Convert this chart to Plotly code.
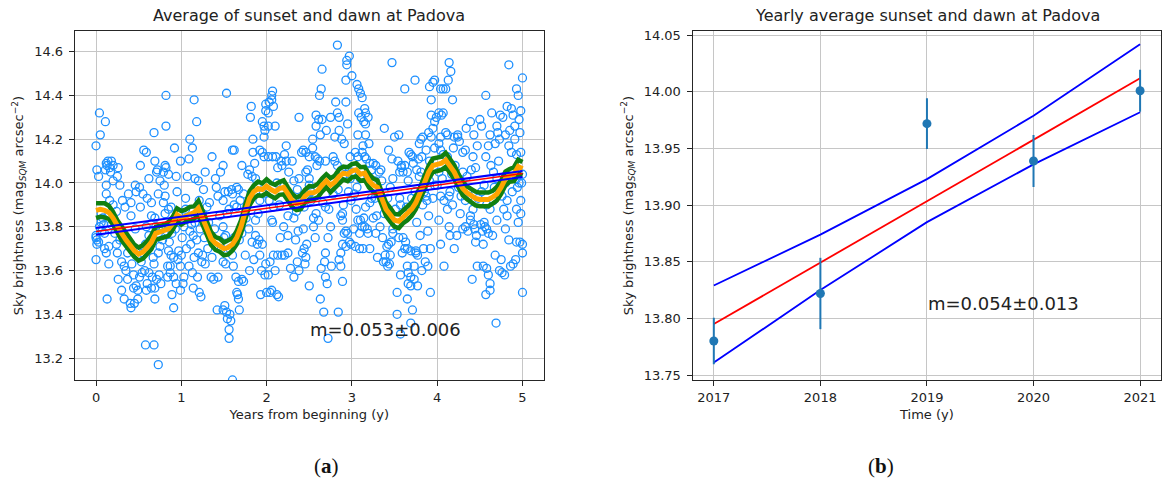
import plotly.graph_objects as go

# ---------------- Panel (a): daily sky brightness, years from start ----------------
yr0_obs = [
    (0.00, 14.17), (0.01, 14.06), (0.03, 14.03), (0.04, 14.32), (0.05, 14.22), (0.11, 14.28),
    (0.12, 14.09), (0.13, 14.08), (0.16, 14.07), (0.11, 14.06), (0.18, 14.10), (0.17, 14.05),
    (0.26, 14.07), (0.25, 14.03), (0.20, 14.08), (0.14, 14.10), (0.12, 13.99), (0.12, 13.95),
    (0.16, 13.92), (0.20, 13.90), (0.24, 13.87), (0.00, 13.75), (0.01, 13.74), (0.03, 13.73),
    (0.01, 13.72), (0.07, 13.78), (0.10, 13.77), (0.00, 13.76), (0.04, 13.80), (0.06, 13.82),
    (0.09, 13.81), (0.00, 13.65), (0.10, 13.70), (0.12, 13.68), (0.15, 13.71), (0.15, 13.63),
    (0.13, 13.47), (0.24, 13.72), (0.25, 13.68), (0.26, 13.56), (0.30, 13.51), (0.33, 13.47),
    (0.40, 13.45), (0.41, 13.43), (0.37, 13.56), (0.33, 13.62), (0.37, 13.68), (0.39, 13.71),
    (0.43, 13.69), (0.38, 13.95), (0.31, 13.92), (0.46, 13.99), (0.52, 14.08), (0.56, 14.15),
    (0.44, 13.52), (0.47, 13.53), (0.51, 13.57), (0.54, 13.59), (0.49, 13.51), (0.45, 13.45),
    (0.49, 13.47), (0.34, 13.89), (0.41, 13.85), (0.46, 13.79), (0.41, 13.91), (0.47, 13.96),
    (0.51, 13.98), (0.53, 13.64), (0.57, 13.60), (0.60, 13.54), (0.59, 13.51), (0.65, 13.52),
    (0.69, 13.52), (0.62, 13.59), (0.68, 13.63), (0.73, 13.68), (0.67, 13.66), (0.58, 13.26),
    (0.68, 13.26), (0.73, 13.17), (0.66, 13.57), (0.74, 13.58), (0.71, 13.56), (0.69, 14.10),
    (0.68, 14.23), (0.72, 14.06), (0.71, 14.05), (0.75, 14.01), (0.60, 13.93), (0.65, 13.91),
    (0.73, 13.95), (0.65, 13.85), (0.69, 13.84), (0.59, 13.80), (0.73, 13.77), (0.52, 13.89),
    (0.75, 13.71), (0.69, 13.47), (0.76, 13.54), (0.82, 14.40), (0.82, 14.26), (0.81, 14.08),
    (0.82, 14.07), (0.79, 14.05), (0.85, 14.04), (0.80, 13.99), (0.81, 13.94), (0.92, 14.16),
    (0.94, 14.03), (0.99, 14.10), (0.95, 13.96), (0.88, 13.89), (0.85, 13.88), (0.81, 13.86),
    (0.91, 13.83), (0.89, 13.77), (0.95, 13.82), (0.82, 13.80), (0.83, 13.78), (0.85, 13.69),
    (0.88, 13.67), (0.91, 13.66), (0.97, 13.69), (1.00, 13.67), (0.84, 13.62), (0.87, 13.62),
    (0.91, 13.57), (0.89, 13.49), (0.91, 13.43), (0.99, 13.62), (0.94, 13.54), (0.99, 13.51),
    (0.84, 13.57), (0.87, 13.59), (0.96, 13.65), (0.06, 13.86), (0.08, 13.84), (0.18, 13.81),
    (0.22, 13.77), (0.28, 13.74), (0.30, 13.64), (0.35, 13.60), (0.42, 13.63), (0.44, 13.58),
    (0.55, 13.68), (0.58, 13.72), (0.62, 13.76), (0.70, 13.80), (0.78, 13.74), (0.86, 13.73),
    (0.93, 13.79), (0.97, 13.86), (0.79, 13.91), (0.55, 13.95), (0.28, 13.99), (0.20, 14.01),
    (0.62, 14.02), (0.59, 14.14),
]

yr1_obs = [
    (1.15, 14.38), (1.10, 14.20), (1.13, 14.16), (1.09, 14.11), (1.18, 14.28), (1.07, 14.03),
    (1.16, 14.02), (1.20, 14.01), (1.26, 13.97), (1.05, 13.93), (1.03, 13.80), (1.01, 13.75),
    (1.11, 13.72), (1.14, 13.76), (1.18, 13.74), (1.20, 13.68), (1.15, 13.66), (1.13, 13.59),
    (1.02, 13.54), (1.14, 13.52), (1.21, 13.50), (1.23, 13.48), (1.03, 13.57), (1.25, 13.67),
    (1.24, 13.64), (1.28, 13.63), (1.21, 13.92), (1.25, 13.86), (1.33, 13.91), (1.30, 13.89),
    (1.41, 13.98), (1.43, 13.94), (1.35, 13.57), (1.38, 13.56), (1.43, 13.57), (1.42, 13.42),
    (1.49, 13.42), (1.51, 13.44), (1.49, 14.08), (1.53, 14.41), (1.51, 13.96), (1.49, 13.92),
    (1.49, 13.80), (1.50, 13.75), (1.52, 13.76), (1.47, 13.70), (1.52, 13.63), (1.49, 13.64),
    (1.53, 13.41), (1.57, 13.40), (1.54, 13.38), (1.56, 13.33), (1.56, 13.29), (1.58, 13.37),
    (1.60, 13.10), (1.60, 14.15), (1.62, 14.15), (1.55, 13.96), (1.59, 13.97), (1.60, 13.95),
    (1.65, 13.98), (1.67, 13.97), (1.62, 13.90), (1.65, 13.89), (1.69, 13.92), (1.56, 13.88),
    (1.54, 13.86), (1.57, 13.70), (1.60, 13.67), (1.61, 13.62), (1.64, 13.57), (1.67, 13.55),
    (1.65, 13.50), (1.66, 13.49), (1.67, 13.47), (1.68, 13.42), (1.71, 13.56), (1.73, 13.55),
    (1.75, 13.67), (1.68, 13.74), (1.71, 13.77), (1.62, 13.75), (1.82, 14.35), (1.81, 14.30),
    (1.84, 14.20), (1.84, 14.14), (1.86, 14.09), (1.80, 14.06), (1.78, 14.04), (1.83, 14.03),
    (1.87, 14.02), (1.89, 13.99), (1.92, 14.15), (1.95, 14.28), (1.97, 14.26), (1.97, 14.21),
    (1.98, 14.24), (1.99, 14.33), (1.99, 14.36), (1.95, 14.14), (1.97, 14.12), (1.87, 13.76),
    (1.91, 13.74), (1.89, 13.72), (1.83, 13.73), (1.95, 13.72), (1.92, 13.67), (1.94, 13.60),
    (1.99, 13.63), (1.98, 13.58), (2.00, 13.50), (1.93, 13.49), (1.87, 13.83), (1.90, 13.86),
    (1.79, 13.79), (1.05, 13.88), (1.08, 13.84), (1.12, 13.81), (1.16, 13.82), (1.10, 13.78),
    (1.22, 13.79), (1.27, 13.75), (1.31, 13.70), (1.36, 13.66), (1.39, 13.79), (1.45, 13.85),
    (1.32, 13.82), (1.40, 14.02), (1.46, 14.05), (1.28, 14.05), (1.36, 14.12), (1.73, 13.95),
    (1.77, 13.90), (1.76, 13.84), (1.71, 14.08), (1.92, 13.92), (1.96, 13.95), (1.06, 13.70),
    (1.09, 13.62), (1.19, 13.57), (1.80, 13.60), (1.85, 13.65),
]

yr2_obs = [
    (2.03, 14.37), (2.06, 14.38), (2.07, 14.42), (2.06, 14.40), (2.08, 14.35), (2.02, 14.32),
    (2.10, 14.26), (2.02, 14.26), (2.02, 14.12), (2.07, 14.12), (2.11, 14.12), (2.13, 14.07),
    (2.17, 14.10), (2.21, 14.13), (2.23, 14.10), (2.18, 14.08), (2.23, 14.17), (2.12, 14.00),
    (2.03, 13.92), (2.08, 13.89), (2.15, 13.90), (2.06, 13.83), (2.07, 13.82), (2.08, 13.67),
    (2.13, 13.67), (2.21, 13.67), (2.18, 13.67), (2.25, 13.68), (2.04, 13.50), (2.12, 13.49),
    (2.14, 13.48), (2.06, 13.51), (2.02, 13.58), (2.04, 13.64), (2.25, 13.76), (2.32, 14.01),
    (2.36, 13.97), (2.38, 14.30), (2.32, 13.84), (2.25, 13.85), (2.37, 13.78), (2.34, 13.74),
    (2.43, 13.79), (2.44, 13.70), (2.47, 13.72), (2.42, 13.68), (2.46, 13.66), (2.36, 13.64),
    (2.38, 13.60), (2.32, 13.57), (2.45, 13.63), (2.50, 13.53), (2.41, 14.14), (2.43, 14.15),
    (2.46, 14.14), (2.50, 14.12), (2.48, 14.06), (2.54, 14.16), (2.38, 14.02), (2.46, 14.05),
    (2.50, 13.99), (2.52, 13.96), (2.44, 13.89), (2.48, 13.94), (2.52, 13.92), (2.40, 13.91),
    (2.54, 14.20), (2.58, 14.31), (2.58, 14.26), (2.61, 14.29), (2.65, 14.29), (2.63, 14.22),
    (2.64, 14.43), (2.65, 14.52), (2.62, 14.40), (2.57, 14.12), (2.60, 14.11), (2.62, 14.10),
    (2.59, 14.08), (2.69, 14.10), (2.50, 14.02), (2.65, 13.99), (2.66, 13.91), (2.69, 13.89),
    (2.73, 13.88), (2.58, 13.86), (2.61, 13.83), (2.55, 13.84), (2.69, 13.68), (2.68, 13.64),
    (2.64, 13.61), (2.69, 13.57), (2.63, 13.47), (2.67, 13.41), (2.71, 13.54), (2.72, 13.29),
    (2.76, 13.62), (2.83, 14.63), (2.97, 14.58), (2.94, 14.56), (2.94, 14.54), (2.81, 14.37),
    (2.83, 14.32), (2.85, 14.30), (2.93, 14.37), (2.93, 14.47), (3.00, 14.49), (2.80, 14.21),
    (2.88, 14.20), (2.91, 14.18), (2.95, 14.27), (2.98, 14.12), (2.78, 14.12), (2.80, 14.10),
    (2.83, 14.08), (2.88, 14.06), (2.92, 14.04), (2.98, 14.02), (2.89, 13.86), (2.87, 13.85),
    (2.89, 13.83), (2.90, 13.90), (2.93, 13.78), (2.91, 13.77), (2.95, 13.77), (2.89, 13.72),
    (2.93, 13.71), (2.97, 13.73), (2.99, 13.72), (2.87, 13.68), (2.85, 13.65), (2.87, 13.62),
    (2.89, 13.55), (2.84, 13.41), (2.27, 13.95), (2.30, 13.92), (2.35, 13.87), (2.55, 13.80),
    (2.57, 13.75), (2.72, 13.75), (2.75, 13.80), (2.78, 13.95), (2.84, 13.97), (2.96, 13.96),
    (2.99, 13.92), (2.26, 14.05), (2.30, 14.10), (2.70, 14.24), (2.75, 14.30), (2.85, 14.24),
    (2.16, 13.75), (2.20, 13.80), (2.10, 13.60), (2.28, 13.61),
]

yr3_obs = [
    (3.06, 14.45), (3.08, 14.43), (3.10, 14.41), (3.12, 14.39), (3.08, 14.32), (3.11, 14.30),
    (3.15, 14.34), (3.16, 14.32), (3.19, 14.30), (3.14, 14.28), (3.16, 14.27), (3.07, 14.22),
    (3.16, 14.22), (3.20, 14.18), (3.04, 14.14), (3.07, 14.12), (3.12, 14.14), (3.15, 14.12),
    (3.17, 14.11), (3.21, 14.09), (3.25, 14.09), (3.23, 14.06), (3.13, 14.17), (3.02, 13.79),
    (3.07, 13.83), (3.10, 13.83), (3.14, 13.84), (3.09, 13.77), (3.09, 13.70), (3.13, 13.70),
    (3.04, 13.71), (3.21, 13.70), (3.19, 13.77), (3.12, 13.80), (3.15, 13.80), (3.18, 13.79),
    (3.05, 13.88), (3.16, 13.89), (3.21, 13.91), (3.23, 13.93), (3.28, 14.08), (3.32, 14.05),
    (3.34, 14.06), (3.27, 14.01), (3.35, 14.01), (3.27, 13.93), (3.29, 13.85), (3.28, 13.77),
    (3.30, 13.66), (3.37, 13.64), (3.40, 13.64), (3.41, 13.71), (3.43, 13.72), (3.46, 13.73),
    (3.45, 13.67), (3.48, 13.77), (3.42, 13.62), (3.44, 13.63), (3.39, 13.67), (3.47, 14.11),
    (3.48, 14.02), (3.50, 14.21), (3.55, 14.22), (3.53, 13.40), (3.53, 13.50), (3.47, 14.55),
    (3.62, 14.43), (3.58, 14.08), (3.54, 14.10), (3.58, 14.07), (3.60, 14.05), (3.56, 14.05),
    (3.62, 14.08), (3.67, 14.14), (3.69, 14.13), (3.71, 14.12), (3.72, 14.09), (3.65, 14.05),
    (3.66, 14.01), (3.56, 13.93), (3.57, 13.90), (3.48, 13.79), (3.55, 13.75), (3.60, 13.75),
    (3.62, 13.70), (3.63, 13.73), (3.65, 13.70), (3.69, 13.69), (3.59, 13.68), (3.65, 13.62),
    (3.57, 13.58), (3.66, 13.59), (3.66, 13.54), (3.69, 13.57), (3.69, 13.53), (3.73, 13.56),
    (3.77, 13.53), (3.65, 13.47), (3.71, 13.42), (3.69, 13.36), (3.57, 13.31), (3.73, 13.62),
    (3.77, 13.67), (3.75, 13.68), (3.75, 13.69), (3.74, 14.47), (3.81, 14.20), (3.79, 14.18),
    (3.83, 14.21), (3.90, 14.23), (3.87, 14.15), (3.93, 14.21), (3.81, 14.05), (3.79, 14.03),
    (3.76, 14.06), (3.78, 14.11), (3.82, 14.12), (3.91, 14.10), (3.91, 14.01), (3.97, 14.16),
    (3.95, 14.25), (3.97, 14.28), (3.93, 14.31), (3.95, 14.46), (3.97, 14.47), (3.91, 14.44),
    (3.93, 14.38), (3.99, 14.30), (3.87, 13.94), (3.88, 13.92), (3.90, 13.85), (3.89, 13.78),
    (3.92, 13.70), (3.89, 13.62), (3.92, 13.50), (3.83, 13.90), (3.85, 13.96), (3.03, 13.95),
    (3.06, 13.98), (3.10, 14.02), (3.00, 14.05), (3.25, 13.84), (3.33, 13.80), (3.36, 13.75),
    (3.38, 13.86), (3.42, 13.93), (3.45, 13.98), (3.51, 13.88), (3.53, 13.84), (3.61, 13.86),
    (3.64, 13.89), (3.70, 13.93), (3.74, 13.96), (3.76, 13.82), (3.80, 13.76), (3.84, 13.70),
    (3.86, 13.64), (3.82, 13.60), (3.95, 13.93), (3.97, 13.99), (3.43, 14.15), (3.38, 14.25),
]

yr4_obs = [
    (4.02, 14.18), (4.04, 14.21), (4.02, 14.32), (4.05, 14.31), (4.07, 14.32), (4.04, 14.43),
    (4.07, 14.43), (4.10, 14.43), (4.14, 14.55), (4.16, 14.51), (4.13, 14.47), (4.18, 14.38),
    (4.10, 14.23), (4.12, 14.22), (4.20, 14.21), (4.19, 14.16), (4.04, 14.15), (4.07, 14.13),
    (4.12, 14.12), (4.00, 13.99), (4.15, 13.96), (4.04, 13.94), (4.08, 13.92), (4.14, 13.94),
    (4.18, 13.90), (4.02, 13.83), (4.04, 13.72), (4.14, 13.80), (4.15, 13.76), (4.23, 13.76),
    (4.12, 13.88), (4.24, 14.22), (4.30, 13.79), (4.33, 13.80), (4.36, 13.78), (4.24, 14.21),
    (4.26, 14.19), (4.30, 14.14), (4.33, 14.15), (4.34, 14.25), (4.39, 14.28), (4.50, 14.29),
    (4.43, 14.22), (4.30, 14.05), (4.35, 14.03), (4.40, 14.06), (4.42, 14.12), (4.45, 14.07),
    (4.30, 13.99), (4.36, 13.96), (4.33, 13.92), (4.37, 13.94), (4.41, 13.56), (4.44, 13.79),
    (4.46, 13.76), (4.42, 13.88), (4.39, 13.85), (4.39, 13.83), (4.43, 13.81), (4.45, 13.73),
    (4.47, 13.62), (4.57, 14.40), (4.64, 14.32), (4.62, 14.22), (4.60, 14.17), (4.57, 14.12),
    (4.63, 14.08), (4.68, 14.18), (4.73, 14.20), (4.70, 14.26), (4.74, 14.31), (4.71, 14.23),
    (4.72, 14.10), (4.51, 13.81), (4.53, 13.78), (4.56, 13.80), (4.58, 13.79), (4.60, 13.77),
    (4.55, 13.82), (4.54, 13.72), (4.54, 13.62), (4.58, 13.61), (4.60, 13.58), (4.57, 13.49),
    (4.62, 13.54), (4.62, 13.51), (4.68, 13.67), (4.65, 13.76), (4.70, 13.83), (4.69, 13.36),
    (4.73, 13.60), (4.75, 13.65), (4.84, 14.54), (4.95, 14.40), (4.93, 14.43), (4.98, 14.33),
    (4.89, 14.31), (4.87, 14.34), (4.82, 14.35), (4.80, 14.22), (4.84, 14.17), (4.87, 14.14),
    (4.93, 14.13), (4.98, 14.14), (4.91, 14.20), (4.97, 14.23), (5.00, 14.48), (4.96, 14.29),
    (4.91, 14.26), (4.85, 14.24), (4.80, 14.00), (4.86, 14.03), (4.93, 14.02), (4.96, 14.00),
    (4.94, 13.98), (4.98, 13.92), (4.93, 13.88), (4.98, 13.86), (4.95, 13.82), (4.82, 13.85),
    (4.80, 13.79), (4.84, 13.74), (4.93, 13.73), (4.97, 13.73), (5.00, 13.72), (5.00, 13.68),
    (4.86, 13.62), (4.89, 13.63), (4.92, 13.65), (4.76, 13.59), (4.79, 13.58), (5.00, 13.50),
    (5.00, 14.04), (4.99, 14.00), (4.02, 14.05), (4.06, 14.02), (4.17, 14.04), (4.21, 14.08),
    (4.25, 13.98), (4.28, 13.94), (4.48, 13.93), (4.52, 13.96), (4.55, 13.99), (4.58, 13.90),
    (4.62, 13.88), (4.66, 13.92), (4.67, 13.98), (4.70, 14.02), (4.76, 13.94), (4.78, 13.88),
    (4.82, 13.92), (4.88, 13.96), (4.20, 13.70), (4.27, 13.86), (4.47, 14.17), (4.52, 14.26),
    (4.77, 14.30), (4.66, 14.05), (4.08, 13.62),
]

# running mean (sampled every 0.05 y) and its upper/lower envelope
smooth_mid = [
    13.875, 13.880, 13.875, 13.865, 13.840, 13.800, 13.770, 13.740, 13.715, 13.690,
    13.675, 13.685, 13.705, 13.730, 13.770, 13.775, 13.780, 13.790, 13.815, 13.855,
    13.840, 13.850, 13.860, 13.865, 13.885, 13.840, 13.790, 13.745, 13.725, 13.715,
    13.700, 13.705, 13.720, 13.750, 13.800, 13.870, 13.930, 13.960, 13.975, 13.970,
    13.985, 13.970, 13.960, 13.975, 13.980, 13.950, 13.920, 13.905, 13.910, 13.940,
    13.955, 13.955, 13.965, 13.990, 14.010, 13.990, 14.005, 14.030, 14.045, 14.040,
    14.055, 14.060, 14.040, 14.045, 14.010, 13.990, 13.980, 13.930, 13.880, 13.855,
    13.830, 13.825, 13.845, 13.860, 13.880, 13.910, 13.950, 14.000, 14.050, 14.080,
    14.085, 14.090, 14.105, 14.080, 14.050, 14.010, 13.975, 13.955, 13.940, 13.930,
    13.925, 13.925, 13.925, 13.935, 13.950, 13.980, 14.020, 14.035, 14.040, 14.075,
    14.065,
]
smooth_hi = [
    13.908, 13.910, 13.907, 13.896, 13.868, 13.830, 13.802, 13.768, 13.746, 13.718,
    13.705, 13.716, 13.735, 13.762, 13.800, 13.806, 13.808, 13.822, 13.846, 13.884,
    13.872, 13.878, 13.891, 13.893, 13.918, 13.872, 13.818, 13.776, 13.753, 13.746,
    13.728, 13.737, 13.748, 13.781, 13.829, 13.900, 13.962, 13.990, 14.006, 13.998,
    14.017, 14.000, 13.992, 14.004, 14.012, 13.980, 13.950, 13.934, 13.942, 13.969,
    13.986, 13.984, 13.996, 14.021, 14.040, 14.022, 14.034, 14.062, 14.075, 14.072,
    14.086, 14.090, 14.072, 14.074, 14.042, 14.020, 14.012, 13.960, 13.910, 13.886,
    13.858, 13.856, 13.874, 13.892, 13.910, 13.942, 13.980, 14.031, 14.080, 14.112,
    14.116, 14.120, 14.138, 14.110, 14.082, 14.040, 14.006, 13.984, 13.972, 13.960,
    13.956, 13.954, 13.956, 13.964, 13.982, 14.010, 14.052, 14.064, 14.072, 14.106,
    14.096,
]
smooth_lo = [
    13.840, 13.846, 13.843, 13.836, 13.810, 13.770, 13.738, 13.712, 13.684, 13.662,
    13.645, 13.654, 13.676, 13.698, 13.740, 13.744, 13.752, 13.758, 13.786, 13.824,
    13.810, 13.822, 13.830, 13.836, 13.854, 13.810, 13.760, 13.716, 13.694, 13.686,
    13.670, 13.674, 13.692, 13.720, 13.770, 13.840, 13.898, 13.930, 13.944, 13.942,
    13.954, 13.940, 13.930, 13.946, 13.948, 13.920, 13.890, 13.876, 13.880, 13.912,
    13.924, 13.926, 13.934, 13.960, 13.980, 13.958, 13.976, 13.998, 14.016, 14.008,
    14.026, 14.030, 14.010, 14.014, 13.980, 13.960, 13.948, 13.900, 13.850, 13.824,
    13.800, 13.794, 13.816, 13.830, 13.850, 13.880, 13.920, 13.970, 14.018, 14.050,
    14.054, 14.060, 14.074, 14.050, 14.018, 13.980, 13.944, 13.926, 13.910, 13.898,
    13.894, 13.896, 13.894, 13.906, 13.920, 13.950, 13.990, 14.006, 14.008, 14.044,
    14.034,
]
smooth_t = [round(0.05 * i, 2) for i in range(len(smooth_mid))]

# linear fit over the whole period and its bounds
fit_a_t = [0.0, 5.0]
fit_a = [13.778, 14.043]
fit_a_hi = [13.794, 14.055]
fit_a_lo = [13.763, 14.027]
slope_a_label = "m=0.053±0.006"

# ---------------- Panel (b): yearly averages ----------------
years_b = [2017, 2018, 2019, 2020, 2021]
mean_b = [13.780, 13.822, 13.972, 13.939, 14.001]
err_b = [0.0205, 0.0315, 0.0225, 0.023, 0.0185]
fit_b_t = [2017, 2021]
fit_b = [13.795, 14.012]
fit_b_hi = [13.829, 13.874, 13.923, 13.979, 14.042]
fit_b_lo = [13.761, 13.825, 13.885, 13.936, 13.982]
slope_b_label = "m=0.054±0.013"

yticks_a = [13.2, 13.4, 13.6, 13.8, 14.0, 14.2, 14.4, 14.6]
yticks_b = [13.75, 13.80, 13.85, 13.90, 13.95, 14.00, 14.05]

# ---------------- figure ----------------
W, H = 1162, 483
TXT = "#222222"
GRID = "#c6c6c6"
FONT = "DejaVu Sans"

groups = [yr0_obs, yr1_obs, yr2_obs, yr3_obs, yr4_obs]
t_a = [t for g in groups for t, _ in g]
m_a = [m for g in groups for _, m in g]

fig = go.Figure()

fig.add_trace(go.Scatter(
    x=t_a, y=m_a, mode="markers", xaxis="x", yaxis="y",
    marker=dict(symbol="circle-open", size=8, color="rgb(30,144,255)",
                line=dict(width=1.3, color="rgb(30,144,255)")),
    showlegend=False, hoverinfo="skip"))

for band in (smooth_hi, smooth_lo):
    fig.add_trace(go.Scatter(x=smooth_t, y=band, mode="lines", xaxis="x", yaxis="y",
                             line=dict(color="#118011", width=4.5), showlegend=False))
fig.add_trace(go.Scatter(x=smooth_t, y=smooth_mid, mode="lines", xaxis="x", yaxis="y",
                         line=dict(color="#ffa500", width=5), showlegend=False))

for band in (fit_a_hi, fit_a_lo):
    fig.add_trace(go.Scatter(x=fit_a_t, y=band, mode="lines", xaxis="x", yaxis="y",
                             line=dict(color="#0000ff", width=2), showlegend=False))
fig.add_trace(go.Scatter(x=fit_a_t, y=fit_a, mode="lines", xaxis="x", yaxis="y",
                         line=dict(color="#ff0000", width=1.5), showlegend=False))

# panel (b)
for band in (fit_b_hi, fit_b_lo):
    fig.add_trace(go.Scatter(x=years_b, y=band, mode="lines", xaxis="x2", yaxis="y2",
                             line=dict(color="#0000ff", width=1.8), showlegend=False))
fig.add_trace(go.Scatter(x=fit_b_t, y=fit_b, mode="lines", xaxis="x2", yaxis="y2",
                         line=dict(color="#ff0000", width=1.8), showlegend=False))
fig.add_trace(go.Scatter(
    x=years_b, y=mean_b, mode="markers", xaxis="x2", yaxis="y2",
    marker=dict(size=9, color="#1f77b4"),
    error_y=dict(type="data", array=err_b, visible=True, color="#1f77b4",
                 thickness=2, width=0),
    showlegend=False))


def px_x(p):
    return p / W


def px_y(p):
    return (H - p) / H


sans13 = dict(family=FONT, size=13, color=TXT)
sans16 = dict(family=FONT, size=16, color=TXT)
serif21 = dict(family="Liberation Serif", size=21, color="#111111")
ytitle = "Sky brightness (mag<sub><i>SQM</i></sub> arcsec<sup>−2</sup>)"

ydom = [px_y(380), px_y(31)]
axis_common = dict(
    showgrid=True, gridcolor=GRID, gridwidth=1, zeroline=False,
    showline=True, mirror=True, linecolor="#262626", linewidth=1,
    ticks="outside", ticklen=5, tickwidth=1, tickcolor="#262626",
    tickfont=dict(family=FONT, size=13, color=TXT), automargin=False,
)

fig.update_layout(
    width=W, height=H,
    margin=dict(l=0, r=0, t=0, b=0),
    paper_bgcolor="white", plot_bgcolor="white",
    font=dict(family=FONT, size=13, color=TXT),
    xaxis=dict(domain=[px_x(74.7), px_x(543.8)], range=[-0.25, 5.25],
               tickvals=[0, 1, 2, 3, 4, 5], anchor="y",
               title=dict(text="Years from beginning (y)", font=sans13, standoff=6),
               **axis_common),
    yaxis=dict(domain=ydom, range=[13.0998, 14.6945], tickvals=yticks_a,
               ticktext=[f"{v:.1f}" for v in yticks_a], anchor="x",
               ticklabelstandoff=3,
               title=dict(text=ytitle, font=sans13, standoff=7),
               **axis_common),
    xaxis2=dict(domain=[px_x(692.5), px_x(1161.4)], range=[2016.8, 2021.2],
                tickvals=years_b, ticktext=[str(v) for v in years_b], anchor="y2",
                title=dict(text="Time (y)", font=sans13, standoff=6),
                **axis_common),
    yaxis2=dict(domain=ydom, range=[13.7456, 14.0538], tickvals=yticks_b,
                ticktext=[f"{v:.2f}" for v in yticks_b], anchor="x2",
                ticklabelstandoff=3,
                title=dict(text=ytitle, font=sans13, standoff=7),
                **axis_common),
)

notes = [
    dict(text="Average of sunset and dawn at Padova", x=px_x(309.3), y=px_y(16), font=sans16),
    dict(text="Yearly average sunset and dawn at Padova", x=px_x(927), y=px_y(16), font=sans16),
    dict(text="(<b>a</b>)", x=px_x(326), y=px_y(466), font=serif21),
    dict(text="(<b>b</b>)", x=px_x(881), y=px_y(466), font=serif21),
]
for n in notes:
    fig.add_annotation(xref="paper", yref="paper", showarrow=False,
                       xanchor="center", yanchor="middle", **n)

fig.add_annotation(xref="x", yref="y", x=2.49, y=13.329, text=slope_a_label,
                   showarrow=False, xanchor="left", yanchor="middle",
                   font=dict(family=FONT, size=18, color=TXT))
fig.add_annotation(xref="x2", yref="y2", x=2018.99, y=13.813, text=slope_b_label,
                   showarrow=False, xanchor="left", yanchor="middle",
                   font=dict(family=FONT, size=18, color=TXT))

fig.write_html("out.html")
